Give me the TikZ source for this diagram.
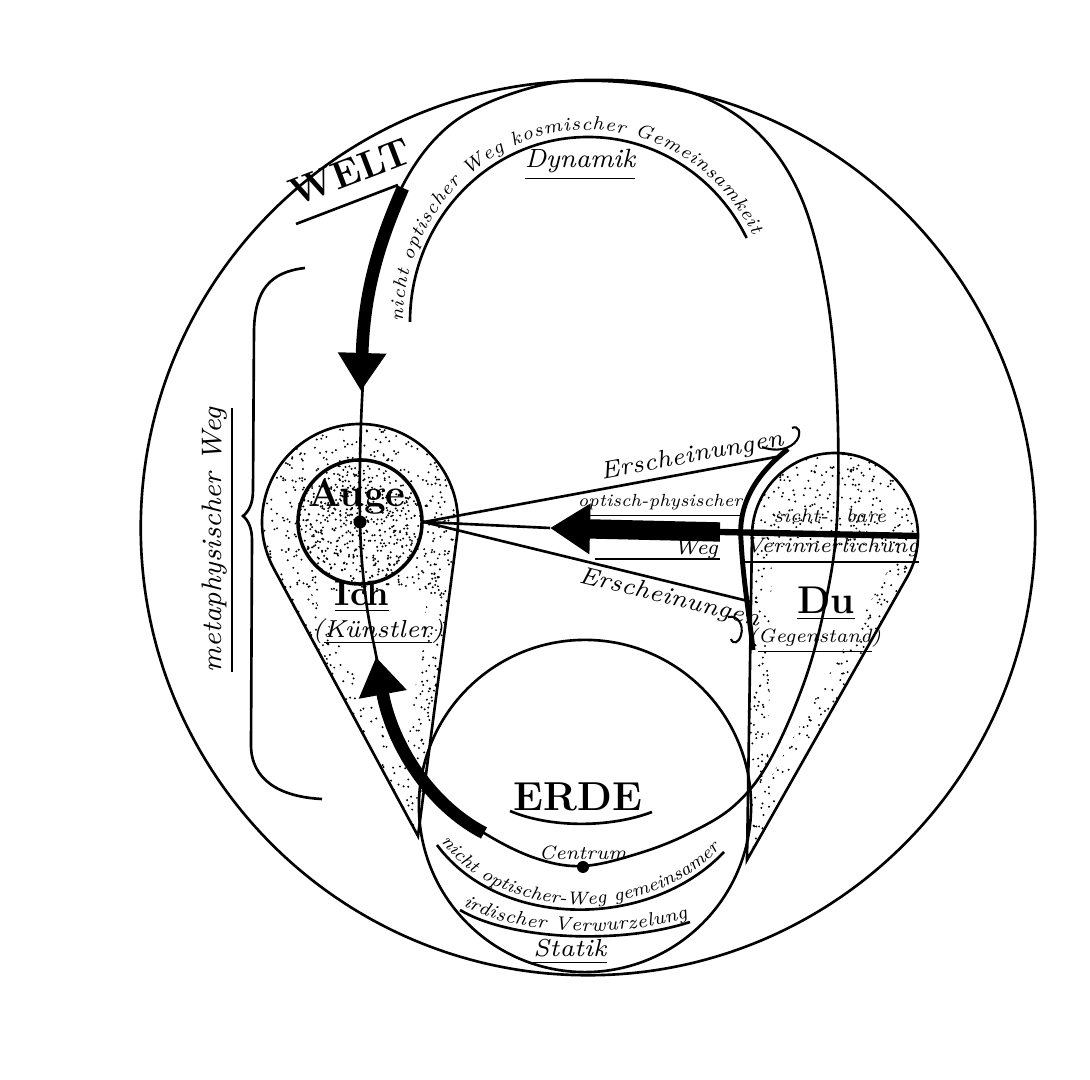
\documentclass[tikz,border=0pt]{standalone}
\usepackage{tikz}
\usetikzlibrary{arrows.meta,calc,decorations.text}

\begin{document}
\begin{tikzpicture}[x=0.01cm,y=-0.01cm,line width=0.75pt,
        hand/.style={font=\itshape\fontsize{7}{8}\selectfont,inner sep=1pt},
        handsmall/.style={font=\itshape\fontsize{5.5}{6}\selectfont,inner sep=1pt},
        bigword/.style={font=\bfseries\fontsize{11}{13}\selectfont,inner sep=1pt},
        bigarrow/.style={line width=3.6pt,-{Triangle[length=0.38cm,width=0.46cm]}},
        ring/.style={circle,draw,inner sep=0pt},
        dot/.style={circle,fill,inner sep=0pt}]
    \useasboundingbox (0,0) rectangle (1090,1080);
    \coordinate (ich) at (360,522);
    \coordinate (ichtip) at (418,836);
    \coordinate (du) at (835,536);
    \coordinate (dutip) at (747,860);

    % stippling
    \pgfmathsetseed{11}
    \begin{scope}
        \clip (ichtip) -- ($(ich)+(151.6:98)$) arc[start angle=151.6,end angle=367.4,radius=98] -- cycle;
        \foreach \k in {1,...,1400}
            \fill ({262+196*rnd},{424+412*rnd}) circle[radius=1.1];
    \end{scope}
    \fill[white] (311,592) -- (428,592) -- (405,765) -- cycle;
    \begin{scope}
        \clip (ich) circle[radius=62];
        \foreach \k in {1,...,350}
            \fill ({298+124*rnd},{460+124*rnd}) circle[radius=1.1];
    \end{scope}
    \begin{scope}
        \clip (dutip) -- ($(du)+(180.9:83)$) arc[start angle=180.9,end angle=389.5,radius=83] -- cycle;
        \foreach \k in {1,...,1200}
            \fill ({750+170*rnd},{452+410*rnd}) circle[radius=1.1];
    \end{scope}
    \fill[white] (772,547) -- ($(du)+(10:63)$) arc[start angle=10,end angle=29.5,radius=63] -- (768,782) -- cycle;

    % outlines
    \node[ring,minimum size=8.94cm] (welt) at (588,528) {};
    \node[ring,minimum size=3.32cm] (erde) at (585,806) {};
    \draw (ichtip) -- ($(ich)+(151.6:98)$) arc[start angle=151.6,end angle=367.4,radius=98] -- cycle;
    \draw (dutip) -- ($(du)+(180.9:83)$) arc[start angle=180.9,end angle=389.5,radius=83] -- cycle;
    \node[ring,minimum size=1.24cm,line width=1pt] (auge) at (ich) {};
    \node[dot,minimum size=0.13cm] (augedot) at (ich) {};
    \node[dot,minimum size=0.12cm] (centrumdot) at (583,867) {};

    % the big loop
    \draw plot[smooth cycle,tension=0.6] coordinates {(360,522) (362,400) (372,290) (398,195) (450,125)
        (530,88) (610,80) (690,92) (755,130) (800,195) (826,290) (837,400) (837,520) (826,600)
        (805,680) (770,760) (735,805) (690,833) (640,853) (583,866) (535,858) (484,833)
        (440,800) (408,760) (388,715) (377,660) (366,600)};
    \draw[bigarrow] (403,188) .. controls (380,240) and (364,290) .. (361,391);
    \draw[bigarrow] (484,833) .. controls (430,805) and (392,745) .. (376,657);

    % optical way
    \coordinate (duleft) at (720,532);
    \coordinate (opttip) at (550,528);
    \coordinate (erschA) at (776,457);
    \coordinate (erschB) at (752,602);
    \draw (auge.east) -- (opttip);
    \draw[bigarrow,line width=5.5pt,-{Triangle[length=0.4cm,width=0.48cm]}] (duleft) -- (opttip);
    \draw[line width=1.8pt] (duleft) -- ($(du)+(0:83)$);
    \draw (auge.east) -- node[hand,sloped,above,pos=0.77] {Erscheinungen} (erschA);
    \draw (auge.east) -- node[hand,sloped,below,pos=0.76] {Erscheinungen} (erschB);
    \draw[line width=1.4pt] (788,449) .. controls (755,475) and (738,505) .. (741,540)
        .. controls (743,580) and (750,620) .. (753,650);
    \draw[line width=0.6pt] (762,447) .. controls (775,452) and (790,450) .. (797,440)
        .. controls (802,432) and (798,425) .. (792,428);
    \draw[line width=0.6pt] (728,617) .. controls (738,615) and (744,625) .. (741,635)
        .. controls (739,643) and (733,645) .. (731,639);
    \node[handsmall,font=\itshape\fontsize{5}{6}\selectfont] (optphys) at (660,506) {\underline{optisch-physischer}};
    \node[handsmall,font=\itshape\fontsize{6}{7}\selectfont] (weg) at (696,549) {Weg};
    \draw[line width=0.5pt] (595,559) -- (720,559);

    % labels
    \node[bigword] (augetext) at (357,497) {Auge};
    \node[bigword,font=\bfseries\fontsize{10}{12}\selectfont] (ichtext) at (362,597) {\underline{Ich}};
    \node[hand] (kuenstler) at (378,632) {(\underline{Künstler})};
    \node[bigword] (dutext) at (826,604) {\underline{Du}};
    \node[handsmall] (gegenstand) at (815,641) {(\underline{Gegenstand})};
    \node[handsmall] (sicht) at (801,516) {sicht-};
    \node[handsmall] (bare) at (866,516) {bare};
    \node[handsmall,font=\itshape\fontsize{6}{7}\selectfont] (verinnerlichung) at (832,551) {\underline{Verinnerlichung}};
    \node[bigword,rotate=21] (welttext) at (350,172) {WELT};
    \draw (296,224) -- (398,185);
    \node[hand,font=\itshape\fontsize{7.5}{9}\selectfont] (dynamik) at (580,165) {\underline{Dynamik}};
    \node[bigword,font=\bfseries\fontsize{11.5}{13}\selectfont] (erdetext) at (578,797) {ERDE};
    \draw (510,811) .. controls (550,828) and (610,828) .. (652,812);
    \node[handsmall] (centrum) at (583,853) {Centrum};
    \node[hand] (statik) at (570,952) {\underline{Statik}};
    \node[hand,font=\itshape\fontsize{8}{9}\selectfont,rotate=90] (metaweg) at (218,540) {\underline{metaphysischer Weg}};
    \draw (305,268) .. controls (270,272) and (255,290) .. (254,330) -- (253,490)
        .. controls (253,505) and (248,512) .. (243,516) .. controls (248,520) and (252,528) .. (252,540)
        -- (251,745) .. controls (251,780) and (280,797) .. (322,799);

    % texts along the ways
    \path[draw,postaction={decorate,decoration={text along path,text align={fit to path},raise=2pt,
        text={|\itshape\fontsize{5.4}{6}\selectfont|nicht optischer Weg kosmischer Gemeinsamkeit}}}]
        (410,322) arc[start angle=180,end angle=333,x radius=178,y radius=185];
    \path[draw,postaction={decorate,decoration={text along path,text align={fit to path},raise=1.5pt,
        text={|\itshape\fontsize{5.2}{6}\selectfont|nicht optischer-Weg gemeinsamer}}}]
        (437,845) .. controls (500,930) and (650,930) .. (724,852);
    \path[draw,postaction={decorate,decoration={text along path,text align={fit to path},raise=1.5pt,
        text={|\itshape\fontsize{5.4}{6}\selectfont|irdischer Verwurzelung}}}]
        (460,910) .. controls (510,940) and (620,945) .. (690,922);
\end{tikzpicture}
\end{document}
